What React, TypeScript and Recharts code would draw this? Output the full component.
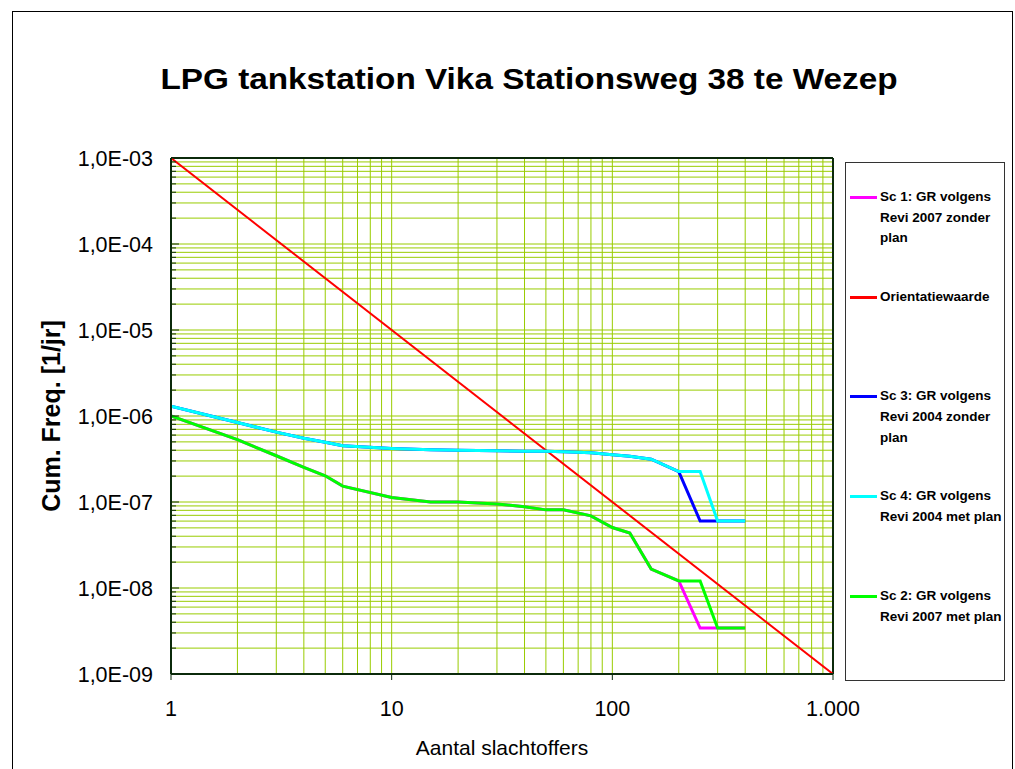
import React from "react";
import {
  LineChart,
  Line,
  XAxis,
  YAxis,
  CartesianGrid,
  ReferenceLine,
  Legend,
} from "recharts";

// Aantal slachtoffers (shared x values of the scenario curves)
const N_VALUES = [1, 2, 3, 4, 5, 6, 10, 15, 20, 30, 40, 50, 60, 80, 100, 120, 150, 200, 250, 300, 400];

// Cumulative frequencies [1/jr]
const SC1_REVI2007_ZONDER = [1.0e-6, 5.3e-7, 3.45e-7, 2.53e-7, 2.02e-7, 1.53e-7, 1.13e-7, 1.0e-7, 1.0e-7, 9.5e-8, 8.8e-8, 8.1e-8, 8.1e-8, 6.9e-8, 5.05e-8, 4.35e-8, 1.66e-8, 1.21e-8, 3.42e-9, 3.42e-9, 3.42e-9];
const SC2_REVI2007_MET = [1.0e-6, 5.3e-7, 3.45e-7, 2.53e-7, 2.02e-7, 1.53e-7, 1.13e-7, 1.0e-7, 1.0e-7, 9.5e-8, 8.8e-8, 8.1e-8, 8.1e-8, 6.9e-8, 5.05e-8, 4.35e-8, 1.66e-8, 1.21e-8, 1.21e-8, 3.42e-9, 3.42e-9];
const SC3_REVI2004_ZONDER = [1.3e-6, 8.4e-7, 6.5e-7, 5.5e-7, 4.95e-7, 4.5e-7, 4.2e-7, 4.05e-7, 4.0e-7, 3.95e-7, 3.9e-7, 3.88e-7, 3.85e-7, 3.75e-7, 3.55e-7, 3.4e-7, 3.15e-7, 2.26e-7, 6.0e-8, 6.0e-8, 6.0e-8];
const SC4_REVI2004_MET = [1.3e-6, 8.4e-7, 6.5e-7, 5.5e-7, 4.95e-7, 4.5e-7, 4.2e-7, 4.05e-7, 4.0e-7, 3.95e-7, 3.9e-7, 3.88e-7, 3.85e-7, 3.75e-7, 3.55e-7, 3.4e-7, 3.15e-7, 2.26e-7, 2.26e-7, 6.0e-8, 6.0e-8];

// Orientatiewaarde: straight line on log-log axes
const ORIENT_N = [1, 1000];
const ORIENT_F = [1e-3, 1e-9];

const X_MAJOR = [1, 10, 100, 1000];
const X_LABELS = ["1", "10", "100", "1.000"];
const Y_MAJOR = [1e-9, 1e-8, 1e-7, 1e-6, 1e-5, 1e-4, 1e-3];
const Y_LABELS = ["1,0E-09", "1,0E-08", "1,0E-07", "1,0E-06", "1,0E-05", "1,0E-04", "1,0E-03"];

const LEGEND_ORDER = [
  "Sc 1: GR volgens Revi 2007 zonder plan",
  "Orientatiewaarde",
  "Sc 3: GR volgens Revi 2004 zonder plan",
  "Sc 4: GR volgens Revi 2004 met plan",
  "Sc 2: GR volgens Revi 2007 met plan",
];

const FONT = "'Liberation Sans', Arial, sans-serif";
const AXIS = "#0b2a0b";
const GRID = "#99cc00";

// 1..9 in every decade, for the grid lines
function decadeTicks(fromExp: number, toExp: number) {
  const out: number[] = [];
  for (let e = fromExp; e < toExp; e++) {
    for (let m = 1; m <= 9; m++) out.push(Number((m * Math.pow(10, e)).toPrecision(6)));
  }
  out.push(Number(Math.pow(10, toExp).toPrecision(6)));
  return out;
}

const X_TICKS = decadeTicks(0, 3);
const Y_TICKS = decadeTicks(-9, -3);

function majorIndex(list: number[], v: number) {
  return list.findIndex((m) => Math.abs(Math.log10(m) - Math.log10(v)) < 1e-6);
}

const toPoints = (xs: number[], ys: number[]) => xs.map((n, i) => ({ n, f: ys[i] }));

const YTick = (props: any) => {
  const { x, y, payload } = props;
  const idx = majorIndex(Y_MAJOR, payload.value);
  const major = idx >= 0;
  return (
    <g>
      <line x1={x} x2={x + (major ? 8 : 5)} y1={y} y2={y} stroke={AXIS} strokeWidth={1} />
      {major && (
        <text x={x - 18} y={y + 7.6} textAnchor="end" fontSize={21.5} fontFamily={FONT} fill="#000">
          {Y_LABELS[idx]}
        </text>
      )}
    </g>
  );
};

const XTick = (props: any) => {
  const { x, y, payload } = props;
  const idx = majorIndex(X_MAJOR, payload.value);
  if (idx < 0) return <g />;
  return (
    <g>
      <line x1={x} x2={x} y1={y} y2={y + 6} stroke={AXIS} strokeWidth={1} />
      <text x={x} y={y + 42} textAnchor="middle" fontSize={21.5} fontFamily={FONT} fill="#000">
        {X_LABELS[idx]}
      </text>
    </g>
  );
};

const YTitle = (props: any) => {
  const { viewBox } = props;
  const cx = viewBox.x + 51;
  const cy = viewBox.y + viewBox.height / 2;
  return (
    <text
      x={cx}
      y={cy}
      transform={`rotate(-90 ${cx} ${cy})`}
      textAnchor="middle"
      dominantBaseline="central"
      fontSize={25}
      fontWeight={700}
      fontFamily={FONT}
      fill="#000"
    >
      Cum. Freq. [1/jr]
    </text>
  );
};

const XTitle = (props: any) => {
  const { viewBox } = props;
  return (
    <text
      x={viewBox.x + viewBox.width / 2}
      y={viewBox.y + 81}
      textAnchor="middle"
      fontSize={21}
      fontFamily={FONT}
      fill="#000"
    >
      Aantal slachtoffers
    </text>
  );
};

const LegendBox = (props: any) => {
  const items = [...(props.payload || [])].sort(
    (a: any, b: any) => LEGEND_ORDER.indexOf(a.value) - LEGEND_ORDER.indexOf(b.value)
  );
  return (
    <div
      style={{
        position: "relative",
        width: 160,
        height: 519,
        border: "1px solid #333",
        boxSizing: "border-box",
        background: "#fff",
        fontFamily: FONT,
      }}
    >
      {items.map((entry: any, i: number) => (
        <div key={entry.value} style={{ position: "absolute", left: 4, top: 24 + i * 99.7 }}>
          <div
            style={{
              position: "absolute",
              left: 0,
              top: 9,
              width: 27,
              height: 3,
              background: entry.color,
            }}
          />
          <div
            style={{
              position: "absolute",
              left: 30,
              top: 0,
              width: 126,
              fontSize: 13.5,
              fontWeight: 700,
              lineHeight: "20.7px",
              color: "#000",
            }}
          >
            {entry.value}
          </div>
        </div>
      ))}
    </div>
  );
};

export default function App() {
  return (
    <div
      style={{
        position: "absolute",
        left: 0,
        top: 0,
        width: 1015,
        height: 769,
        overflow: "hidden",
        background: "#fff",
        fontFamily: FONT,
      }}
    >
      <div
        style={{
          position: "absolute",
          left: 12,
          top: 11,
          width: 1001,
          height: 800,
          border: "1px solid #000",
          boxSizing: "border-box",
        }}
      />
      <div
        style={{
          position: "absolute",
          left: 0,
          width: 1058,
          top: 64,
          textAlign: "center",
          fontSize: 30,
          lineHeight: "30px",
          fontWeight: 700,
          whiteSpace: "nowrap",
          transform: "scaleX(1.11)",
          transformOrigin: "529px 0",
          color: "#000",
        }}
      >
        LPG tankstation Vika Stationsweg 38 te Wezep
      </div>
      <div style={{ position: "absolute", left: 0, top: 0 }}>
        <LineChart width={1015} height={769} margin={{ top: 158, right: 182, bottom: 0, left: 0 }}>
          <CartesianGrid stroke={GRID} strokeWidth={1} />
          <XAxis
            dataKey="n"
            type="number"
            scale="log"
            domain={[1, 1000]}
            allowDataOverflow
            ticks={X_TICKS}
            interval={0}
            height={95}
            tickSize={0}
            tickMargin={0}
            tickLine={false}
            tick={<XTick />}
            axisLine={{ stroke: AXIS, strokeWidth: 2 }}
            label={<XTitle />}
          />
          <YAxis
            type="number"
            scale="log"
            domain={[1e-9, 1e-3]}
            allowDataOverflow
            ticks={Y_TICKS}
            interval={0}
            width={171}
            tickSize={0}
            tickMargin={0}
            tickLine={false}
            tick={<YTick />}
            axisLine={{ stroke: AXIS, strokeWidth: 2 }}
            label={<YTitle />}
          />
          <ReferenceLine y={1e-3} stroke={AXIS} strokeWidth={2} />
          <ReferenceLine x={1000} stroke={AXIS} strokeWidth={2} />
          <Legend
            layout="horizontal"
            verticalAlign="middle"
            align="center"
            content={<LegendBox />}
            wrapperStyle={{ left: 845, top: 162, width: 160, height: 519 }}
          />
          <Line
            name="Sc 1: GR volgens Revi 2007 zonder plan"
            data={toPoints(N_VALUES, SC1_REVI2007_ZONDER)}
            dataKey="f"
            stroke="#ff00ff"
            strokeWidth={3}
            dot={false}
            isAnimationActive={false}
          />
          <Line
            name="Orientatiewaarde"
            data={toPoints(ORIENT_N, ORIENT_F)}
            dataKey="f"
            stroke="#ff0000"
            strokeWidth={2}
            dot={false}
            isAnimationActive={false}
          />
          <Line
            name="Sc 3: GR volgens Revi 2004 zonder plan"
            data={toPoints(N_VALUES, SC3_REVI2004_ZONDER)}
            dataKey="f"
            stroke="#0000ff"
            strokeWidth={3}
            dot={false}
            isAnimationActive={false}
          />
          <Line
            name="Sc 4: GR volgens Revi 2004 met plan"
            data={toPoints(N_VALUES, SC4_REVI2004_MET)}
            dataKey="f"
            stroke="#00ffff"
            strokeWidth={3}
            dot={false}
            isAnimationActive={false}
          />
          <Line
            name="Sc 2: GR volgens Revi 2007 met plan"
            data={toPoints(N_VALUES, SC2_REVI2007_MET)}
            dataKey="f"
            stroke="#00ff00"
            strokeWidth={3}
            dot={false}
            isAnimationActive={false}
          />
        </LineChart>
      </div>
    </div>
  );
}
